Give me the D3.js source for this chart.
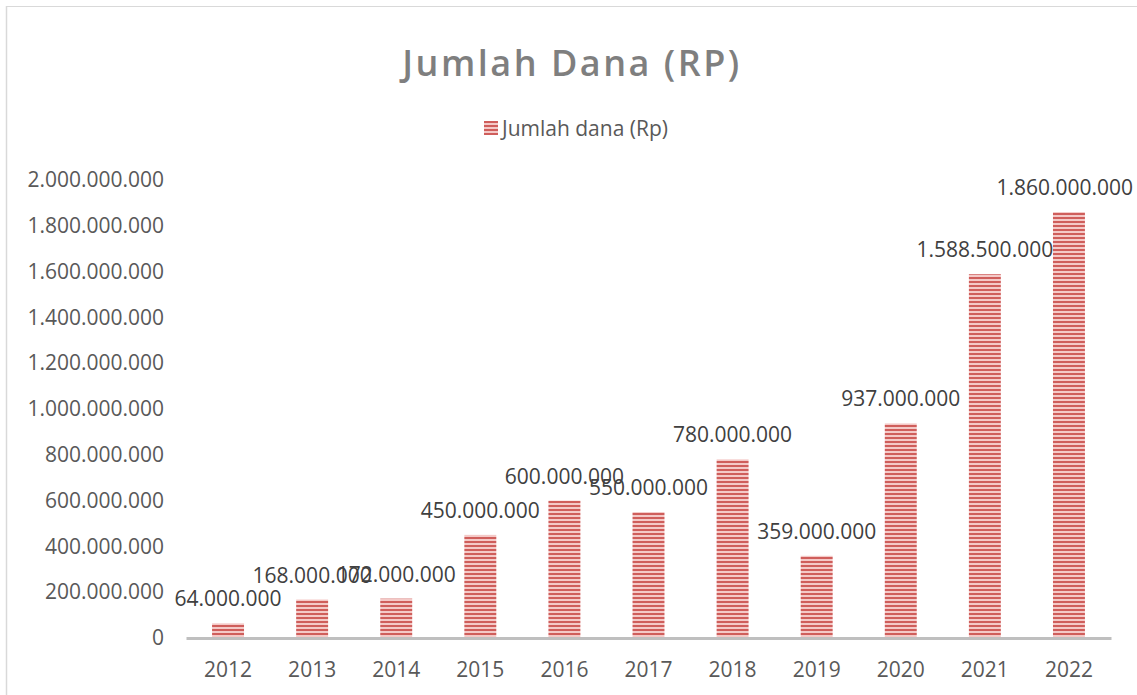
<!DOCTYPE html>
<html>
<head>
<meta charset="utf-8">
<script src="https://cdn.jsdelivr.net/npm/d3@7"></script>
<style>
  body { margin: 0; background: #fff; }
  svg { display: block; }
</style>
</head>
<body>
<div id="chart"></div>
<script>
// data
const years = ['2012', '2013', '2014', '2015', '2016', '2017', '2018', '2019', '2020', '2021', '2022'];
const dana = [64000000, 168000000, 172000000, 450000000, 600000000, 550000000, 780000000, 359000000, 937000000, 1588500000, 1860000000];
const yTicks = [0, 200000000, 400000000, 600000000, 800000000, 1000000000, 1200000000, 1400000000, 1600000000, 1800000000, 2000000000];

const width = 1137;
const height = 695;
const marginLeft = 186;
const marginRight = 26;
const marginTop = 180;
const marginBottom = 57;
const fs = 21;

const idLocale = d3.formatLocale({ decimal: ',', thousands: '.', grouping: [3], currency: ['Rp', ''] });
const fmt = idLocale.format(',.0f');

const svg = d3.select('#chart')
  .append('svg')
  .attr('width', width)
  .attr('height', height)
  .attr('font-family', '"Open Sans", sans-serif');

// stripe pattern for the bars
const pat = svg.append('defs').append('pattern')
  .attr('id', 'stripes')
  .attr('patternUnits', 'userSpaceOnUse')
  .attr('width', 8)
  .attr('height', 4);
pat.append('rect').attr('width', 8).attr('height', 4).attr('fill', '#f4c9c7');
pat.append('rect').attr('y', 1).attr('width', 8).attr('height', 2).attr('fill', '#cf5e5b');

// outer border (only top & left visible)
svg.append('line').attr('x1', 6).attr('x2', width).attr('y1', 6.5).attr('y2', 6.5)
  .attr('stroke', '#d9d9d9').attr('stroke-width', 1);
svg.append('line').attr('x1', 6.5).attr('x2', 6.5).attr('y1', 6).attr('y2', height)
  .attr('stroke', '#d9d9d9').attr('stroke-width', 1.5);

const x = d3.scaleBand()
  .domain(years)
  .range([marginLeft, width - marginRight])
  .paddingInner(0.62)
  .paddingOuter(0.31);

const y = d3.scaleLinear()
  .domain([0, 2000000000])
  .range([height - marginBottom, marginTop]);

// title
svg.append('text')
  .attr('x', 572)
  .attr('y', 76)
  .attr('text-anchor', 'middle')
  .attr('font-size', 36)
  .attr('font-weight', 600)
  .attr('letter-spacing', 2.5)
  .attr('fill', '#7f7f7f')
  .text('Jumlah Dana (RP)');

// legend
svg.append('rect').attr('x', 484).attr('y', 121).attr('width', 14).attr('height', 14).attr('fill', 'url(#stripes)');
svg.append('text')
  .attr('x', 502)
  .attr('y', 136)
  .attr('font-size', fs)
  .attr('fill', '#595959')
  .text('Jumlah dana (Rp)');

// y axis labels
svg.append('g')
  .attr('transform', `translate(${marginLeft},0)`)
  .call(d3.axisLeft(y).tickValues(yTicks).tickFormat(fmt).tickSize(0).tickPadding(22))
  .call(g => g.select('.domain').remove())
  .call(g => g.selectAll('text')
    .attr('font-family', '"Open Sans", sans-serif')
    .attr('font-size', fs)
    .attr('fill', '#595959'));

// bars
svg.append('g')
  .selectAll('rect')
  .data(dana)
  .join('rect')
  .attr('x', (d, i) => x(years[i]))
  .attr('y', d => y(d))
  .attr('width', x.bandwidth())
  .attr('height', d => y(0) - y(d))
  .attr('fill', 'url(#stripes)');

// x axis
svg.append('g')
  .attr('transform', `translate(0,${y(0)})`)
  .call(d3.axisBottom(x).tickSize(0).tickPadding(24))
  .call(g => g.select('.domain').attr('stroke', '#bfbfbf').attr('stroke-width', 3))
  .call(g => g.selectAll('text')
    .attr('font-family', '"Open Sans", sans-serif')
    .attr('font-size', fs)
    .attr('fill', '#595959'));

// data labels (kept inside the chart on the right edge)
svg.append('g')
  .selectAll('text')
  .data(dana)
  .join('text')
  .attr('y', d => y(d) - 17)
  .attr('text-anchor', 'middle')
  .attr('font-size', fs)
  .attr('fill', '#404040')
  .text(d => fmt(d))
  .attr('x', function(d, i) {
    const cx = x(years[i]) + x.bandwidth() / 2;
    const half = this.getComputedTextLength() / 2;
    return Math.min(cx, width - 4 - half);
  });
</script>
</body>
</html>
